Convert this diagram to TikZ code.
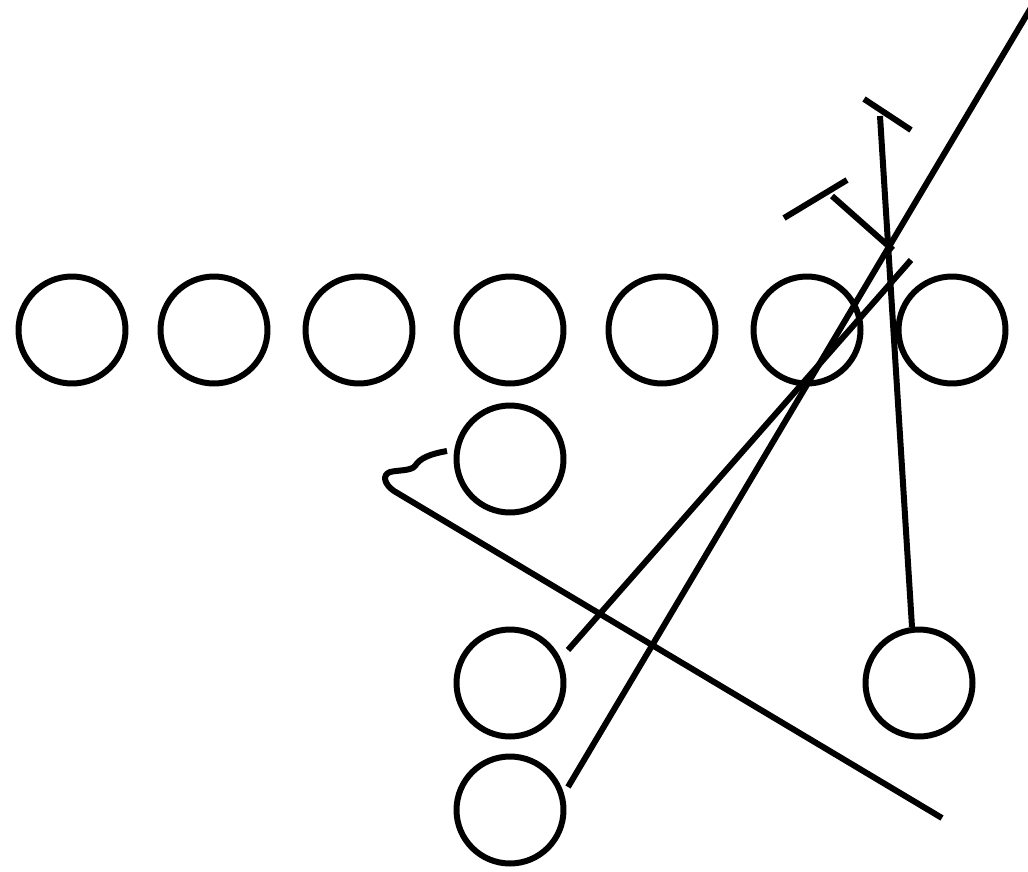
\documentclass[tikz,border=0pt]{standalone}
\begin{document}
\begin{tikzpicture}[x=0.02cm,y=-0.02cm,
  player/.style={draw,circle,line width=0.12cm,minimum size=2.14cm,inner sep=0pt},
  route/.style={line width=0.12cm}]
\useasboundingbox (0,0) rectangle (1028,872);
\clip (0,0) rectangle (1028,872);
\node[player] (l1) at (72,330) {};
\node[player] (l2) at (214,330) {};
\node[player] (l3) at (359,330) {};
\node[player] (l4) at (510,330) {};
\node[player] (l5) at (662,330) {};
\node[player] (l6) at (807,330) {};
\node[player] (l7) at (952,330) {};
\node[player] (q) at (510,459) {};
\node[player] (b1) at (510,683) {};
\node[player] (b2) at (510,810) {};
\node[player] (r) at (919,683) {};
% route ends
\coordinate (s1) at (568,650);
\coordinate (e1) at (911,260);
\coordinate (s2) at (568,787);
\coordinate (e2) at (1032,6);
\coordinate (s3) at (912,627);
\coordinate (e3) at (880,116);
\coordinate (t3a) at (864,99);
\coordinate (t3b) at (911,130);
\coordinate (s5) at (893,250);
\coordinate (e5) at (832,196);
\coordinate (t5a) at (784,218);
\coordinate (t5b) at (847,180);
\coordinate (s4) at (447,451);
\coordinate (e4) at (942,818);
\draw[route] (s1) -- (e1);
\draw[route] (s2) -- (e2);
\draw[route] (s3) -- (e3);
\draw[route] (t3a) -- (t3b);
\draw[route] (s5) -- (e5);
\draw[route] (t5a) -- (t5b);
\draw[route] (s4) .. controls (430,454) and (420,458) .. (415,466)
  .. controls (411,471) and (398,470) .. (390,472)
  .. controls (382,475) and (384,484) .. (394,491) -- (e4);
\end{tikzpicture}
\end{document}
